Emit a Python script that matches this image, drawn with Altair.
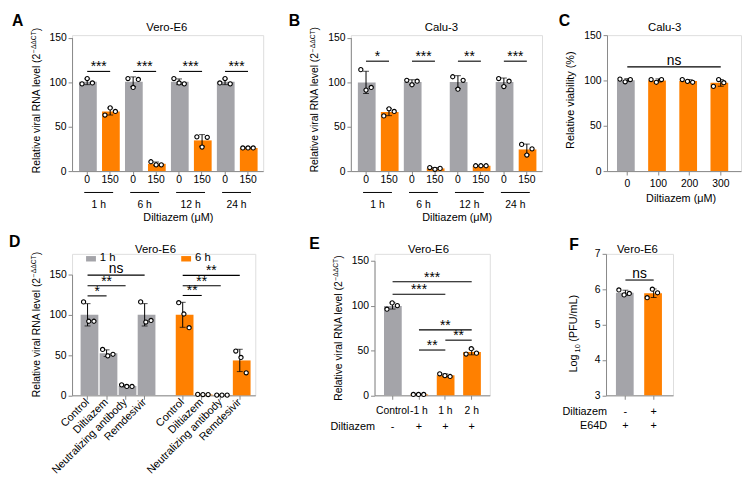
import altair as alt
import numpy as np
import pandas as pd

FONT = "Liberation Sans"
GRAY = "#A4A4A9"
ORANGE = "#FF8000"
BLACK = "#000000"

# ---------------- values ----------------
# A  Vero-E6, relative viral RNA level, diltiazem 0 / 150 uM
A_time = ["1 h", "1 h", "6 h", "6 h", "12 h", "12 h", "24 h", "24 h"]
A_dose = ["0", "150", "0", "150", "0", "150", "0", "150"]
A_rep1 = [98, 63, 104, 10.5, 104, 38.5, 99, 26]
A_rep2 = [104, 71, 94, 7, 99, 27, 104, 26]
A_rep3 = [99, 67, 103, 7, 98, 38, 98, 26]
A_sig = ["***", "***", "***", "***"]
A_sig_y = [112, 112, 112, 112]

# B  Calu-3
B_time = ["1 h", "1 h", "6 h", "6 h", "12 h", "12 h", "24 h", "24 h"]
B_dose = ["0", "150", "0", "150", "0", "150", "0", "150"]
B_rep1 = [114, 62, 102, 4, 106, 6, 104, 30]
B_rep2 = [91, 70, 97, 2, 92, 6, 95, 18]
B_rep3 = [94, 67, 101, 3, 102, 6, 101, 25]
B_sig = ["*", "***", "**", "***"]
B_sig_y = [123.5, 123.5, 123.5, 123.5]

# C  Calu-3 viability
C_dose = ["0", "100", "200", "300"]
C_group = ["control", "treated", "treated", "treated"]
C_rep1 = [101.5, 101, 101, 93.5]
C_rep2 = [98.5, 98, 99, 101]
C_rep3 = [101, 101, 98, 97.5]
C_sig_from = ["0"]
C_sig_to = ["300"]
C_sig = ["ns"]
C_sig_y = [115]

# D  Vero-E6, 1 h / 6 h
D_treatment = ["Control", "Diltiazem", "Neutralizing antibody", "Remdesivir"]
D_time = ["1 h", "6 h"]
D_rep1_1h = [116, 57, 13, 116]
D_rep2_1h = [92, 49, 11, 91]
D_rep3_1h = [92, 51, 11, 93]
D_rep1_6h = [115, 1.2, 0.3, 55]
D_rep2_6h = [101, 1.0, 0.3, 47]
D_rep3_6h = [84, 1.0, 0.3, 28]
D_sig_time = ["1 h", "1 h", "1 h", "6 h", "6 h", "6 h"]
D_sig_to = ["Diltiazem", "Neutralizing antibody", "Remdesivir",
            "Diltiazem", "Neutralizing antibody", "Remdesivir"]
D_sig = ["*", "**", "ns", "**", "**", "**"]
D_sig_y = [123.5, 136, 149.3, 124, 136, 149]

# E  Vero-E6, time of addition
E_cat = ["Control", "-1 h", "1 h", "2 h"]
E_group = ["control", "treated", "treated", "treated"]
E_diltiazem = ["-", "+", "+", "+"]
E_rep1 = [96, 1, 24, 46]
E_rep2 = [103, 1, 22, 52]
E_rep3 = [100, 1, 21, 47]
E_sig_from = ["Control", "Control", "-1 h", "-1 h", "1 h"]
E_sig_to = ["1 h", "2 h", "1 h", "2 h", "2 h"]
E_sig = ["***", "***", "**", "**", "**"]
E_sig_y = [112.7, 126.6, 50.5, 73, 61.5]

# F  Vero-E6, titre with E64D
F_cat = ["E64D", "E64D + Diltiazem"]
F_group = ["control", "treated"]
F_diltiazem = ["-", "+"]
F_e64d = ["+", "+"]
F_rep1 = [5.98, 5.76]
F_rep2 = [5.84, 6.00]
F_rep3 = [5.88, 5.90]
F_sig_from = ["E64D"]
F_sig_to = ["E64D + Diltiazem"]
F_sig = ["ns"]
F_sig_y = [6.26]

# ---------------- helpers ----------------
ARIAL = {' ': 278, '(': 333, ')': 333, '%': 889, '/': 278, '-': 333,
         '0': 556, '1': 556, '2': 556, '3': 556, '4': 556, '5': 556,
         '6': 556, '7': 556, '8': 556, '9': 556,
         'A': 667, 'C': 722, 'D': 722, 'E': 667, 'F': 611, 'L': 556, 'M': 833,
         'N': 722, 'P': 667, 'R': 722, 'T': 611, 'U': 722,
         'a': 556, 'b': 556, 'd': 556, 'e': 556, 'g': 556, 'i': 222, 'l': 222,
         'm': 833, 'n': 556, 'o': 556, 'r': 333, 't': 278, 'u': 556, 'v': 500,
         'y': 500, 'z': 500, '\u2212': 584, '\u0394': 668}


def tw(s, fs):
    return sum(ARIAL.get(c, 556) for c in s) * fs / 1000.0


ONE = pd.DataFrame({"o": [0]})


def text_at(x, y, text, size, **kw):
    kw.setdefault("align", "center")
    kw.setdefault("baseline", "middle")
    return alt.Chart(ONE).mark_text(text=text, font=FONT, fontSize=size, color=BLACK, **kw).encode(
        x=alt.value(x), y=alt.value(y))


def rot_title(parts, x0, yc):
    lens = [p[1] if p[0] is None else tw(p[0], p[1]) for p in parts]
    y = yc + sum(lens) / 2
    out = []
    for (t, fs, sh), L in zip(parts, lens):
        if t is not None:
            out.append(text_at(x0 + sh, y, t, fs, angle=270, align="left", baseline="alphabetic"))
        y -= L
    return out


RNA_TITLE = [("Relative viral RNA level (2", 10.5, 0), ("\u2212\u0394\u0394CT", 6.8, -3.8), (")", 10.5, 0)]


def summary(keys, groups, reps):
    arr = np.array(reps, dtype=float)
    m = arr.mean(axis=0)
    sd = arr.std(axis=0, ddof=1)
    return pd.DataFrame({"key": keys, "grp": groups, "mean": m, "lo": m - sd, "hi": m + sd})


def replicates(keys, reps):
    return pd.DataFrame([{"key": k, "rep": str(j), "val": v}
                         for j, r in enumerate(reps) for k, v in zip(keys, r)])


def build_panel(p):
    keys, W, H = p["keys"], p["width"], p["height"]
    pi, po = p["pad"]
    step = W / (len(keys) - pi + 2 * po)
    bw = step * (1 - pi)
    rep_po = min(max((bw / p["rep_gap"] - 3) / 2, 0.0), 1.0)
    xscale = alt.Scale(domain=keys, paddingInner=pi, paddingOuter=po)
    yscale = alt.Scale(domain=p["y_domain"], range=[H, p["y_top"]], nice=False, zero=False)
    yaxis = alt.Axis(values=p["y_values"], tickSize=4, labelPadding=2, labelFontSize=10.5,
                     grid=False, title=None)
    xaxis = p["x_axis"]
    colour = alt.Color("grp:N", scale=alt.Scale(domain=p["color_domain"], range=[GRAY, ORANGE]),
                       legend=None)

    def X(field="key"):
        return alt.X(f"{field}:N", scale=xscale, axis=xaxis, title=None)

    def Y(field):
        return alt.Y(f"{field}:Q", scale=yscale, axis=yaxis, title=None)

    summ = summary(p["bar_keys"], p["groups"], p["reps"])
    reps = replicates(p["bar_keys"], p["reps"])
    layers = []
    if p.get("spacer") is not None:
        layers.append(alt.Chart(ONE).mark_rule(opacity=0).encode(
            x=alt.value(p["spacer"]), y=alt.value(0), y2=alt.value(1)))
    bars = alt.Chart(summ).mark_bar().encode(x=X(), y=Y("mean"), color=colour)
    if "base" in p:
        bars = bars.encode(y2=alt.datum(p["base"]))
    layers.append(bars)
    layers.append(alt.Chart(summ).mark_rule(color=BLACK, strokeWidth=1).encode(
        x=X(), y=Y("lo"), y2="hi:Q"))
    for f in ("lo", "hi"):
        layers.append(alt.Chart(summ).mark_tick(color=BLACK, thickness=1, size=6).encode(
            x=X(), y=Y(f)))
    layers.append(alt.Chart(reps).mark_circle(size=18, fill="white", stroke=BLACK, strokeWidth=1.1,
                                              opacity=1, fillOpacity=1).encode(
        x=X(),
        xOffset=alt.XOffset("rep:N", scale=alt.Scale(paddingInner=0, paddingOuter=rep_po)),
        y=Y("val")))

    sig = p["sig"].copy()
    idx = {k: i for i, k in enumerate(keys)}
    sig["span"] = [idx[b] - idx[a] for a, b in zip(sig["key"], sig["key2"])]
    sig["ns"] = sig["label"] == "ns"
    layers.append(alt.Chart(sig).mark_rule(color=BLACK, strokeWidth=1.1).encode(
        x=X(), x2="key2:N", y=Y("y")))
    for (span, ns), g in sig.groupby(["span", "ns"]):
        layers.append(alt.Chart(g.drop(columns=["ns"])).mark_text(
            font=FONT, fontSize=14, color=BLACK, align="center", baseline="alphabetic",
            dx=float(int(span) * step / 2), dy=-2.0 if ns else 0.0).encode(
            x=X(), y=Y("y"), text="label:N"))

    ctx = dict(X=X, Y=Y, step=step, H=H, W=W, colour=colour)
    if p.get("extra") is not None:
        layers += p["extra"](ctx)

    lx, ly = p["letter_xy"]
    layers.append(text_at(lx, ly, p["letter"], 16, align="left", baseline="top", fontWeight="bold"))
    tx, ty = p["title_xy"]
    layers.append(text_at(tx, ty, p["title"], 11.5, baseline="alphabetic"))
    layers += p["ytitle"]
    return alt.layer(*layers).properties(width=W, height=H)


def ab_extras(time_list, dose_list):
    def f(c):
        X, H, W, step = c["X"], c["H"], c["W"], c["step"]
        k0 = [f"{t}|{d}" for t, d in zip(time_list, dose_list) if d == "0"]
        k1 = [f"{t}|{d}" for t, d in zip(time_list, dose_list) if d != "0"]
        tl = [t for t, d in zip(time_list, dose_list) if d == "0"]
        g = pd.DataFrame({"key": k0, "key2": k1, "label": tl})
        lines = alt.Chart(g).mark_rule(color=BLACK, strokeWidth=1, xOffset=-3, x2Offset=3).encode(
            x=X(), x2="key2:N", y=alt.value(H + 21.7))
        labels = alt.Chart(g).mark_text(font=FONT, fontSize=10.5, color=BLACK, baseline="middle",
                                        dx=float(step / 2)).encode(
            x=X(), y=alt.value(H + 34.3), text="label:N")
        title = text_at(W * 109 / 196, H + 47.8, "Diltiazem (\u03bcM)", 11)
        return [lines, labels, title]
    return f


def c_extras(c):
    return [text_at(75.2, c["H"] + 28.6, "Diltiazem (\u03bcM)", 11)]


def d_extras(c):
    X, colour = c["X"], c["colour"]
    lg = pd.DataFrame({"key": [f"Control|{t}" for t in D_time], "grp": D_time, "label": D_time})
    sw = alt.Chart(lg).mark_point(shape="M-1,-0.55L1,-0.55L1,0.55L-1,0.55Z", filled=True, size=100,
                                  opacity=1, xOffset=3.5).encode(x=X(), y=alt.value(5), color=colour)
    tx = alt.Chart(lg).mark_text(font=FONT, fontSize=11.5, color=BLACK, align="left",
                                 baseline="middle", dx=12.5).encode(
        x=X(), y=alt.value(4.5), text="label:N")
    return [sw, tx]


def e_extras(c):
    X, H = c["X"], c["H"]
    df = pd.DataFrame({"key": E_cat, "sign": E_diltiazem})
    return [text_at(0.5, H + 31.8, "Diltiazem", 11, align="right"),
            alt.Chart(df).mark_text(font=FONT, fontSize=11, color=BLACK, baseline="middle").encode(
                x=X(), y=alt.value(H + 31.8), text="sign:N")]


def f_extras(c):
    X, H = c["X"], c["H"]
    df = pd.DataFrame({"key": F_cat, "dil": F_diltiazem, "e64d": F_e64d})
    return [text_at(1, H + 16.8, "Diltiazem", 11, align="right"),
            text_at(1, H + 30.8, "E64D", 11, align="right"),
            alt.Chart(df).mark_text(font=FONT, fontSize=11, color=BLACK, baseline="middle").encode(
                x=X(), y=alt.value(H + 16.8), text="dil:N"),
            alt.Chart(df).mark_text(font=FONT, fontSize=11, color=BLACK, baseline="middle").encode(
                x=X(), y=alt.value(H + 30.8), text="e64d:N")]


H1 = 138
H2 = 143.6

AB_AXIS = alt.Axis(labelExpr="split(datum.value, '|')[1]", labelAngle=0, tickSize=4, labelPadding=0,
                   labelFontSize=10.5, labelOverlap=False)


def ab_panel(time_list, dose_list, reps, sig, sig_y, letter, title, lx, title_x, yc, spacer):
    keys = [f"{t}|{d}" for t, d in zip(time_list, dose_list)]
    groups = ["control" if d == "0" else "treated" for d in dose_list]
    sig_df = pd.DataFrame({
        "key": [f"{t}|0" for t, d in zip(time_list, dose_list) if d == "0"],
        "key2": [f"{t}|{d}" for t, d in zip(time_list, dose_list) if d != "0"],
        "label": sig, "y": sig_y})
    return build_panel(dict(
        keys=keys, bar_keys=keys, groups=groups, reps=reps, width=194, height=H1,
        pad=(0.29, 0.305), rep_gap=4, y_domain=[0, 150], y_top=2.5, y_values=[0, 50, 100, 150],
        x_axis=AB_AXIS, color_domain=["control", "treated"], sig=sig_df,
        extra=ab_extras(time_list, dose_list), letter=letter, letter_xy=(lx, -22.7),
        title=title, title_xy=(title_x, -3.8), ytitle=rot_title(RNA_TITLE, -33, yc), spacer=spacer))


A = ab_panel(A_time, A_dose, [A_rep1, A_rep2, A_rep3], A_sig, A_sig_y, "A", "Vero-E6", -61, 96.2, 66.3, None)
B = ab_panel(B_time, B_dose, [B_rep1, B_rep2, B_rep3], B_sig, B_sig_y, "B", "Calu-3", -63, 91.9, 65.5, -87)

C = build_panel(dict(
    keys=C_dose, bar_keys=C_dose, groups=C_group, reps=[C_rep1, C_rep2, C_rep3], width=136, height=H1,
    pad=(0.34, 0.32), rep_gap=4, y_domain=[0, 150], y_top=0, y_values=[0, 50, 100, 150],
    x_axis=alt.Axis(labelAngle=0, tickSize=4, labelPadding=3.5, labelFontSize=10.5, labelOverlap=False),
    color_domain=["control", "treated"],
    sig=pd.DataFrame({"key": C_sig_from, "key2": C_sig_to, "label": C_sig, "y": C_sig_y}),
    extra=c_extras, letter="C", letter_xy=(-49, -22.7), title="Calu-3", title_xy=(58.5, -3.8),
    ytitle=[text_at(-34, 66, "Relative viability (%)", 11, angle=270, align="center",
                    baseline="alphabetic")],
    spacer=-64))

D_keys = [f"{t}|1 h" for t in D_treatment] + ["gap"] + [f"{t}|6 h" for t in D_treatment]
D_bar_keys = [f"{t}|1 h" for t in D_treatment] + [f"{t}|6 h" for t in D_treatment]
D_groups = ["1 h"] * 4 + ["6 h"] * 4
D_reps = [D_rep1_1h + D_rep1_6h, D_rep2_1h + D_rep2_6h, D_rep3_1h + D_rep3_6h]
D_AXIS = alt.Axis(labelExpr="datum.value == 'gap' ? '' : split(datum.value, '|')[0]", labelAngle=-45,
                  labelAlign="right", labelBaseline="middle", labelPadding=1, tickSize=4,
                  labelFontSize=11, labelOverlap=False, labelLimit=400,
                  tickOpacity={"condition": {"test": "datum.value == 'gap'", "value": 0}, "value": 1})
D = build_panel(dict(
    keys=D_keys, bar_keys=D_bar_keys, groups=D_groups, reps=D_reps, width=186, height=H2,
    pad=(0.27, 0.45), rep_gap=3.5, y_domain=[0, 150], y_top=21, y_values=[0, 50, 100, 150],
    x_axis=D_AXIS, color_domain=D_time,
    sig=pd.DataFrame({"key": [f"Control|{t}" for t in D_sig_time],
                      "key2": [f"{a}|{t}" for a, t in zip(D_sig_to, D_sig_time)],
                      "label": D_sig, "y": D_sig_y}),
    extra=d_extras, letter="D", letter_xy=(-64, -20.2), title="Vero-E6", title_xy=(84.7, -0.5),
    ytitle=rot_title(RNA_TITLE, -33, 71.8), spacer=None))

E = build_panel(dict(
    keys=E_cat, bar_keys=E_cat, groups=E_group, reps=[E_rep1, E_rep2, E_rep3], width=117, height=H2,
    pad=(0.35, 0.36), rep_gap=4, y_domain=[0, 150], y_top=7, y_values=[0, 50, 100, 150],
    x_axis=alt.Axis(labelAngle=0, tickSize=4, labelPadding=6, labelFontSize=10.5, labelOverlap=False),
    color_domain=["control", "treated"],
    sig=pd.DataFrame({"key": E_sig_from, "key2": E_sig_to, "label": E_sig, "y": E_sig_y}),
    extra=e_extras, letter="E", letter_xy=(-66.3, -17.9), title="Vero-E6", title_xy=(54.8, -0.5),
    ytitle=rot_title(RNA_TITLE, -33, 75.3), spacer=-119.3))

F = build_panel(dict(
    keys=F_cat, bar_keys=F_cat, groups=F_group, reps=[F_rep1, F_rep2, F_rep3], width=68, height=H2,
    pad=(0.33, 0.35), rep_gap=4, y_domain=[3, 7], y_top=0, y_values=[3, 4, 5, 6, 7], base=3,
    x_axis=alt.Axis(labels=False, tickSize=4), color_domain=["control", "treated"],
    sig=pd.DataFrame({"key": F_sig_from, "key2": F_sig_to, "label": F_sig, "y": F_sig_y}),
    extra=f_extras, letter="F", letter_xy=(-37.3, -16.9), title="Vero-E6", title_xy=(31.8, -0.5),
    ytitle=rot_title([("Log", 11, 0), (None, 2, 0), ("10", 7.5, 2.5), (None, 2.5, 0),
                      ("(PFU/mL)", 11, 0)], -29, 81),
    spacer=-116.2))

row1 = alt.hconcat(A, B, C, spacing=0)
row2 = alt.hconcat(D, E, F, spacing=0)
chart = alt.vconcat(row1, row2, spacing=9).properties(padding=0).configure_view(
    stroke=None).configure_axis(
    domainColor=BLACK, tickColor=BLACK, labelColor=BLACK, labelFont=FONT, titleFont=FONT,
    domainWidth=1, tickWidth=1).configure(font=FONT)

chart.save("out.html", embed_options={"renderer": "svg", "actions": False})
